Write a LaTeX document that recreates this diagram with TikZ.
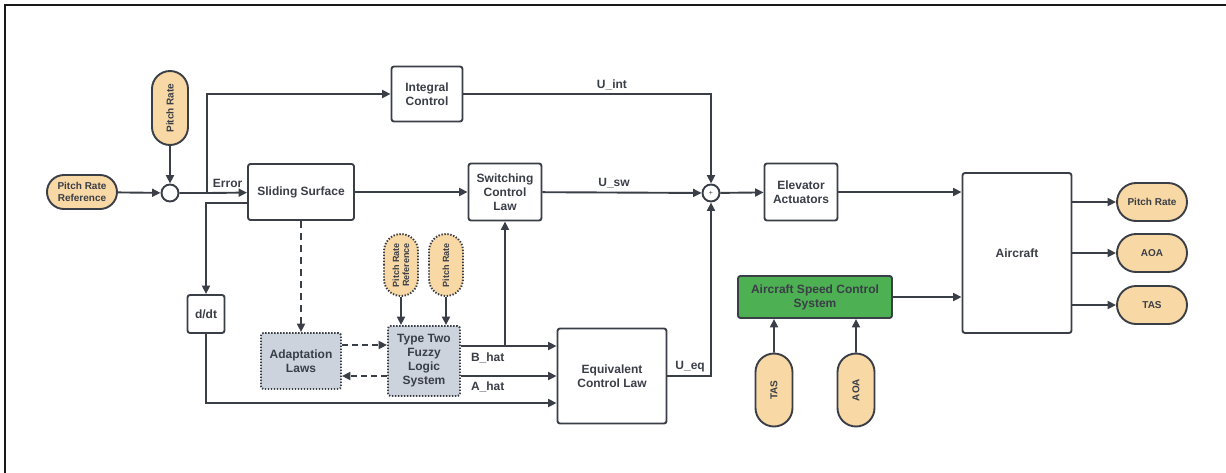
\documentclass[tikz,border=0pt]{standalone}
\usepackage{fontspec}
\setmainfont{Liberation Sans}
\usetikzlibrary{arrows.meta,positioning,shapes.misc}
\definecolor{ink}{HTML}{3A3E47}
\definecolor{pillfill}{HTML}{F8D8A4}
\definecolor{fuzzyfill}{HTML}{CDD3DD}
\definecolor{speedfill}{HTML}{4DB052}

\begin{document}
\begin{tikzpicture}[x=1pt,y=-1pt]
  \tikzset{
  	block/.style={draw=ink, line width=1.9pt, rounded corners=2.5pt, fill=white, text=ink, align=center, inner sep=1pt, font=\bfseries\fontsize{12}{14}\selectfont},
  	fuzzybox/.style={block, fill=fuzzyfill, dash pattern=on 1.4pt off 1.6pt},
  	signal/.style={rounded rectangle, draw=ink, line width=1.9pt, fill=pillfill, text=ink, align=center, inner sep=1pt, font=\bfseries\fontsize{10}{11.5}\selectfont},
  	dotsignal/.style={signal, dash pattern=on 1.4pt off 1.6pt, font=\bfseries\fontsize{9}{10}\selectfont},
  	sumjoint/.style={circle, draw=ink, line width=1.9pt, fill=white, minimum size=17pt, inner sep=0pt, text=ink, font=\fontsize{7}{7}\selectfont},
  	wire/.style={draw=ink, line width=1.9pt, -{Triangle[length=8.5pt,width=8pt]}},
  	lbl/.style={text=ink, inner sep=1pt, font=\bfseries\fontsize{12}{14}\selectfont},
  }
  \useasboundingbox (0,0) rectangle (1226,472);
  \draw[line width=2.5pt, black!90] (5,5) rectangle (1250,500);

  % pitch loop, left part
  \node[signal, minimum width=72pt, minimum height=34pt] (prr) at (82,192) {Pitch Rate\\Reference};
  \node[signal, rotate=90, minimum width=76pt, minimum height=36pt] (pr) at (170,108) {Pitch Rate};
  \node[sumjoint] (err) at (170,193) {};
  \node[block, minimum width=106pt, minimum height=56pt] (ss) at (301,192) {Sliding Surface};
  \node[block, minimum width=71pt, minimum height=55pt] (ic) at (427,94) {Integral\\Control};
  \node[block, minimum width=73pt, minimum height=57pt] (scl) at (505,192) {Switching\\Control\\Law};
  \node[block, minimum width=37pt, minimum height=38pt] (ddt) at (206,314) {d/dt};

  % adaptive part
  \node[fuzzybox, minimum width=80pt, minimum height=56pt] (al) at (301,361) {Adaptation\\Laws};
  \node[fuzzybox, minimum width=72pt, minimum height=70pt] (fz) at (424,361) {Type Two\\Fuzzy\\Logic\\System};
  \node[dotsignal, rotate=90, minimum width=64pt, minimum height=34pt] (fprr) at (401,265) {Pitch Rate\\Reference};
  \node[dotsignal, rotate=90, minimum width=64pt, minimum height=34pt] (fpr) at (446,265) {Pitch Rate};
  \node[block, minimum width=109pt, minimum height=95pt] (ecl) at (612,376) {Equivalent\\Control Law};

  % plant side
  \node[sumjoint] (sum) at (711,193) {+};
  \node[block, minimum width=73pt, minimum height=57pt] (ea) at (801,192) {Elevator\\Actuators};
  \node[block, minimum width=109pt, minimum height=160pt] (ac) at (1017,253) {Aircraft};
  \node[block, fill=speedfill, minimum width=154pt, minimum height=42pt] (ascs) at (815,297) {Aircraft Speed Control\\System};
  \node[signal, rotate=90, minimum width=75pt, minimum height=37pt] (tasin) at (774,390) {TAS};
  \node[signal, rotate=90, minimum width=75pt, minimum height=37pt] (aoain) at (856,390) {AOA};
  \node[signal, minimum width=72pt, minimum height=38pt] (prout) at (1152,202) {Pitch Rate};
  \node[signal, minimum width=72pt, minimum height=38pt] (aoaout) at (1152,253) {AOA};
  \node[signal, minimum width=72pt, minimum height=38pt] (tasout) at (1152,305) {TAS};

  % error and its branches
  \coordinate (ebr) at (207,193);
  \draw[wire] (prr) -- (err);
  \draw[wire] (pr) -- (err);
  \draw[wire] (err) -- (ebr) node[lbl, anchor=south west, xshift=4pt, yshift=3pt] {Error} -- (ss);
  \draw[wire] (ebr) |- (ic);
  \draw[wire] ([yshift=-11pt]ss.west) -| (ddt);
  \draw[wire] (ddt) |- ([yshift=-27pt]ecl.west);

  % control signals
  \draw[wire] (ss) -- (scl);
  \draw[wire] (ic) -| node[lbl, above=2pt, pos=0.3] {U\_int} (sum);
  \draw[wire] (scl) -- node[lbl, above=3pt, pos=0.45] {U\_sw} (sum);
  \draw[wire] (ecl) -| node[lbl, above=2pt, pos=0.26] {U\_eq} (sum);

  % adaptation
  \draw[wire, dash pattern=on 7pt off 5pt] (ss) -- (al);
  \draw[wire, dash pattern=on 6pt off 4pt] ([yshift=16pt]al.east) -- ([yshift=16pt]al.east -| fz.west);
  \draw[wire, dash pattern=on 6pt off 4pt] ([yshift=-15pt]fz.west) -- ([yshift=-15pt]fz.west -| al.east);
  \draw[wire] (fprr) -- (fprr |- fz.north);
  \draw[wire] (fpr) -- (fpr |- fz.north);
  \draw[wire] ([yshift=15pt]fz.east) -- node[lbl, below=5pt, pos=0.28] {B\_hat} ([yshift=15pt]fz.east -| ecl.west);
  \draw[wire] ([yshift=-15pt]fz.east) -- node[lbl, below=4pt, pos=0.28] {A\_hat} ([yshift=-15pt]fz.east -| ecl.west);
  \coordinate (bbr) at ([yshift=15pt]fz.east -| scl.south);
  \draw[wire] (bbr) -- (scl.south);

  % plant
  \draw[wire] (sum) -- (ea);
  \draw[wire] (ea.east) -- (ea.east -| ac.west);
  \draw[wire] (ascs.east) -- (ascs.east -| ac.west);
  \draw[wire] (tasin) -- (tasin |- ascs.south);
  \draw[wire] (aoain) -- (aoain |- ascs.south);
  \draw[wire] (prout -| ac.east) -- (prout);
  \draw[wire] (aoaout -| ac.east) -- (aoaout);
  \draw[wire] (tasout -| ac.east) -- (tasout);
\end{tikzpicture}
\end{document}
